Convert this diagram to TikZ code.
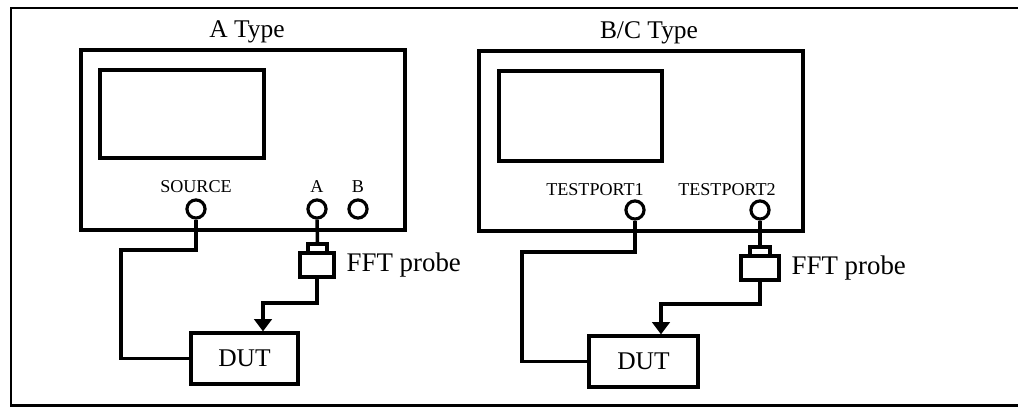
\documentclass[tikz,border=0pt]{standalone}
\usepackage{fontspec}
\setmainfont{Liberation Serif}
\usetikzlibrary{positioning,fit,arrows.meta}

\tikzset{
	box/.style={draw, line width=2pt, inner sep=0pt},
	port/.style={draw, circle, line width=1.8pt, minimum size=10.3pt, inner sep=0pt},
	wire/.style={line width=2pt},
	tip/.style={-{Triangle[width=10pt, length=7pt]}},
	bigtext/.style={font=\fontsize{14.5}{17}\selectfont},
	title/.style={bigtext, inner sep=1pt},
	portlabel/.style={font=\fontsize{10.3}{12}\selectfont, inner sep=1pt},
}

\begin{document}
\begin{tikzpicture}[x=0.02cm, y=-0.02cm]
	\useasboundingbox (0,0) rectangle (1018,408);
	% outer frame, cut off on the right
	\draw[line width=1.3pt] (1022,8) -- (11,8) -- (11,405.5) -- (1022,405.5);

	% A type analyser
	\node[title] (titleA) at (247,32) {A Type};
	\node[box, fit={(81,50) (405,230)}] (instA) {};
	\node[box, fit={(100,70) (264,158)}] (screenA) {};
	\node[port] (srcA) at (196,209) {};
	\node[port] (portA) at (317,209) {};
	\node[port] (portB) at (358,209) {};
	\node[portlabel, above=2pt of srcA] (lblsrcA) {SOURCE};
	\node[portlabel, above=2pt of portA] (lblportA) {A};
	\node[portlabel, above=2pt of portB] (lblportB) {B};

	% probe and device under test
	\node[box, fit={(308,244) (327,253)}] (tipA) {};
	\node[box, fit={(300,253) (334,277)}] (bodyA) {};
	\node[title, right=5pt of bodyA, font=\fontsize{15.3}{18}\selectfont] (fftA) {FFT probe};
	\node[box, bigtext, minimum width=60.7pt, minimum height=28.9pt] (dutA) at (244.5,358.5) {DUT};

	\draw[wire] (portA.south) -- (tipA.north);
	\draw[wire] (srcA.south) |- (121,250) |- (dutA.west);
	\draw[wire, tip] (bodyA.south) |- (263,303) -- (263,0 |- dutA.north);

	% B/C type analyser
	\node[title] (titleB) at (649,33) {B/C Type};
	\node[box, fit={(479,51) (803,231)}] (instB) {};
	\node[box, fit={(499,71) (662,161)}] (screenB) {};
	\node[port] (tpone) at (635,210) {};
	\node[port] (tptwo) at (760,210) {};
	\node[portlabel] (lbltpone) at (595,190) {TESTPORT1};
	\node[portlabel] (lbltptwo) at (727,190) {TESTPORT2};

	% probe and device under test
	\node[box, fit={(750,247) (770,256)}] (tipB) {};
	\node[box, fit={(741,256) (779,280)}] (bodyB) {};
	\node[title, right=5pt of bodyB, font=\fontsize{15.3}{18}\selectfont] (fftB) {FFT probe};
	\node[box, bigtext, minimum width=61.8pt, minimum height=28.9pt] (dutB) at (643.5,361.5) {DUT};

	\draw[wire] (tptwo.south) -- (tipB.north);
	\draw[wire] (tpone.south) |- (522,252) |- (dutB.west);
	\draw[wire, tip] (bodyB.south) |- (661,304) -- (661,0 |- dutB.north);
\end{tikzpicture}
\end{document}
